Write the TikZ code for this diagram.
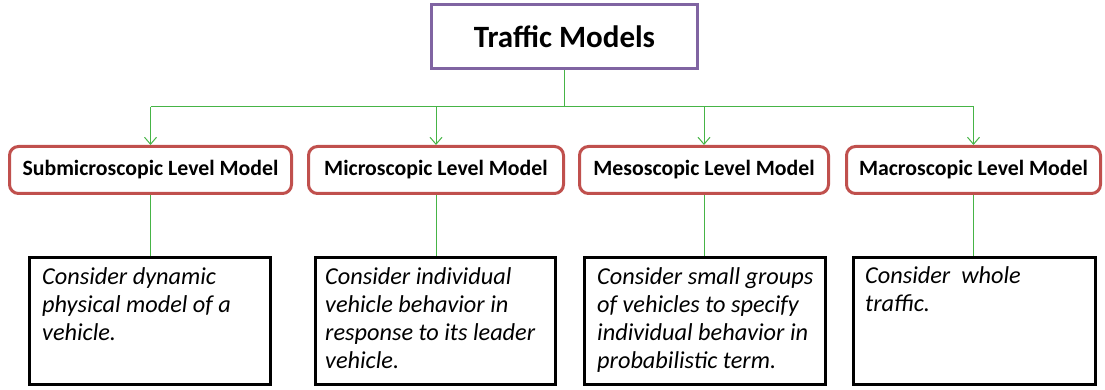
\documentclass[tikz,border=0pt]{standalone}
\usepackage{fontspec}
\setmainfont{Carlito}
\usetikzlibrary{arrows.meta}
\definecolor{purp}{RGB}{128,100,162}
\definecolor{redb}{RGB}{192,80,77}
\definecolor{grn}{RGB}{70,180,70}
\begin{document}
\begin{tikzpicture}[x=1pt,y=-1pt,
  topbox/.style={draw=purp, line width=3pt, minimum width=266pt, minimum height=64pt, inner sep=0pt,
    font=\fontsize{31}{36}\selectfont\bfseries},
  levelbox/.style={draw=redb, line width=3pt, rounded corners=9pt, minimum height=47pt, inner sep=0pt,
    font=\fontsize{21.8}{26}\selectfont\bfseries},
  descbox/.style={draw=black, line width=3pt, minimum height=127pt, inner sep=0pt},
  desctext/.style={anchor=north west, inner sep=0pt, align=left,
    font=\fontsize{24.3}{28.3}\selectfont\itshape},
  conn/.style={draw=grn, line width=1pt},
  arr/.style={conn, -{Straight Barb[length=7pt,width=12pt,line width=1pt]}}]
\useasboundingbox (0,0) rectangle (1105,390);

\node[topbox] (top) at (564.5,36.5) {Traffic Models};

\node[levelbox, minimum width=282pt] (l1) at (150.5,170) {Submicroscopic Level Model};
\node[levelbox, minimum width=255pt] (l2) at (436,170) {Microscopic Level Model};
\node[levelbox, minimum width=249pt] (l3) at (704,170) {Mesoscopic Level Model};
\node[levelbox, minimum width=254pt] (l4) at (973.5,170) {Macroscopic Level Model};

\node[descbox, minimum width=241pt] (d1) at (150,321) {};
\node[descbox, minimum width=240pt] (d2) at (435.5,321) {};
\node[descbox, minimum width=241pt] (d3) at (705,321) {};
\node[descbox, minimum width=242pt] (d4) at (974.5,320.5) {};

\node[desctext] (t1) at (42,267) {Consider dynamic\\physical model of a\\vehicle.};
\node[desctext] (t2) at (325,267) {Consider individual\\vehicle behavior in\\response to its leader\\vehicle.};
\node[desctext] (t3) at (597,267) {Consider small groups\\of vehicles to specify\\individual behavior in\\probabilistic term.};
\node[desctext] (t4) at (865,266) {Consider\ \ whole\\traffic.};

\coordinate (hub) at (564.5,107);
\draw[conn] (top.south) -- (hub);
\draw[conn] (l1.north |- hub) -- (l4.north |- hub);
\foreach \i in {1,2,3,4}{
  \draw[arr] (l\i.north |- hub) -- (l\i.north);
  \draw[conn] (l\i.south) -- (l\i.south |- d\i.north);
}
\end{tikzpicture}
\end{document}
